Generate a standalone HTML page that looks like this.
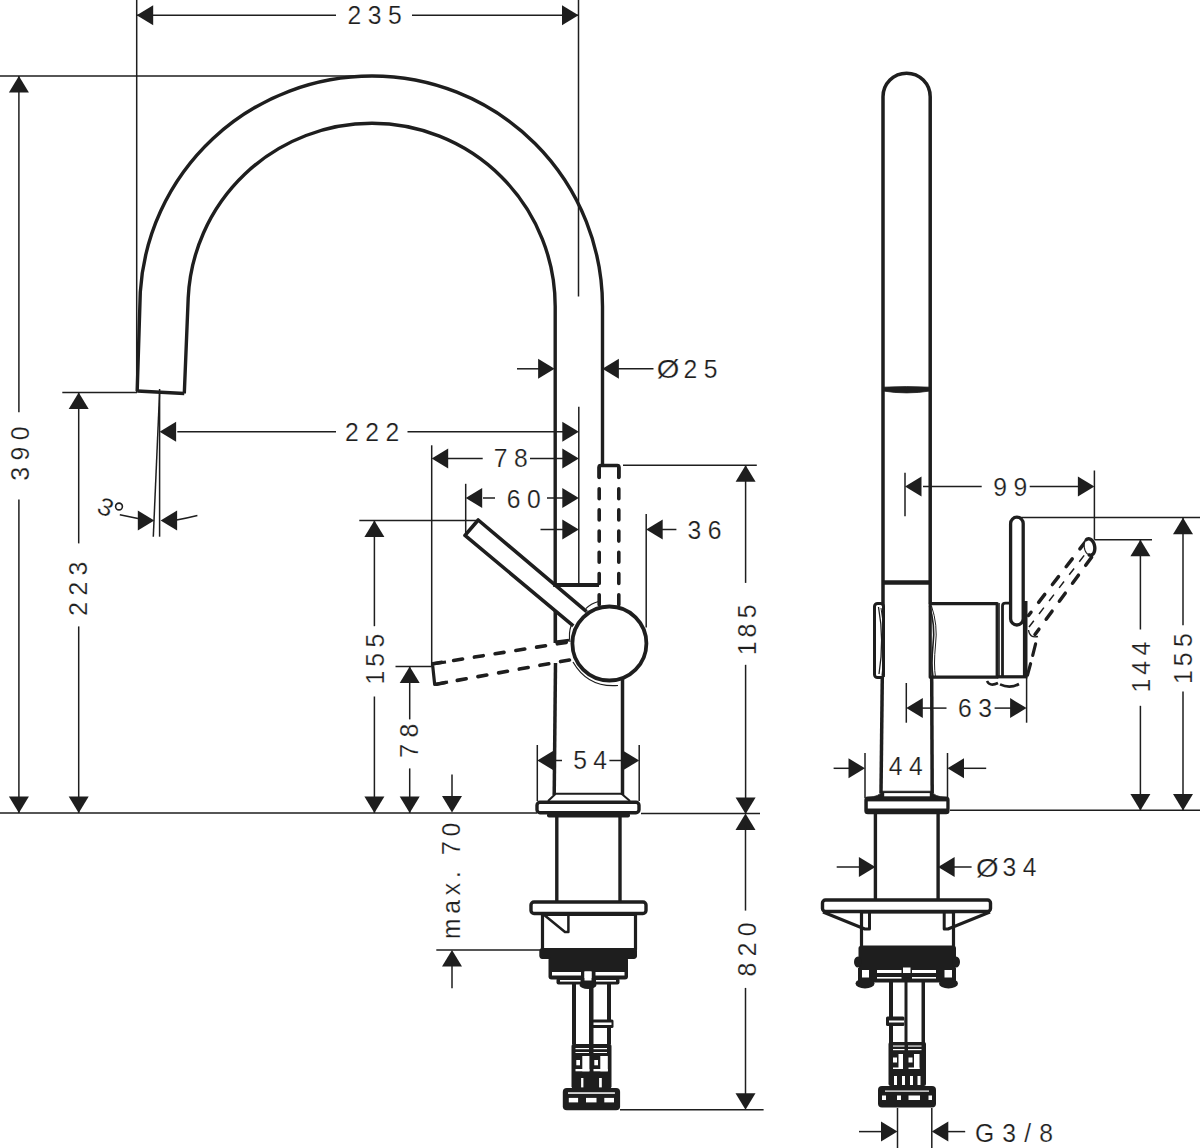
<!DOCTYPE html>
<html><head><meta charset="utf-8"><style>
html,body{margin:0;padding:0;background:#fff;width:1200px;height:1148px;overflow:hidden}
svg{display:block}
text{font-family:"Liberation Sans",sans-serif;fill:#1e1e1e;stroke:#fff;stroke-width:0.2px}
</style></head><body>
<svg width="1200" height="1148" viewBox="0 0 1200 1148" stroke="#1e1e1e" fill="none" stroke-linecap="butt" stroke-linejoin="round">
<line x1="136.7" y1="0" x2="136.7" y2="392" stroke-width="1.5"/>
<line x1="578.5" y1="0" x2="578.5" y2="296.4" stroke-width="1.5"/>
<line x1="136.7" y1="15.3" x2="336" y2="15.3" stroke-width="1.5"/>
<line x1="412" y1="15.3" x2="578.5" y2="15.3" stroke-width="1.5"/>
<path d="M136.7 15.3 L153.2 5.3 L153.2 25.3 Z" fill="#1e1e1e" stroke="none"/>
<path d="M578.5 15.3 L562 25.3 L562 5.3 Z" fill="#1e1e1e" stroke="none"/>
<text transform="translate(347.5 24.05) scale(0.95 1)" font-size="26" letter-spacing="6.8">235</text>
<line x1="0" y1="76" x2="372" y2="76" stroke-width="1.5"/>
<line x1="18.9" y1="76" x2="18.9" y2="412.2" stroke-width="1.5"/>
<line x1="18.9" y1="499.4" x2="18.9" y2="813" stroke-width="1.5"/>
<path d="M18.9 76 L28.9 92.5 L8.9 92.5 Z" fill="#1e1e1e" stroke="none"/>
<path d="M18.9 813 L8.9 796.5 L28.9 796.5 Z" fill="#1e1e1e" stroke="none"/>
<text transform="translate(28.75 480.75) rotate(-90) scale(0.95 1)" font-size="26" letter-spacing="6.8">390</text>
<line x1="62.3" y1="392.6" x2="137" y2="392.6" stroke-width="1.5"/>
<line x1="78.7" y1="392.6" x2="78.7" y2="543.4" stroke-width="1.5"/>
<line x1="78.7" y1="626.4" x2="78.7" y2="813" stroke-width="1.5"/>
<path d="M78.7 392.6 L88.7 409.1 L68.7 409.1 Z" fill="#1e1e1e" stroke="none"/>
<path d="M78.7 813 L68.7 796.5 L88.7 796.5 Z" fill="#1e1e1e" stroke="none"/>
<text transform="translate(87.3 615.8) rotate(-90) scale(0.95 1)" font-size="26" letter-spacing="6.8">223</text>
<line x1="0" y1="813" x2="537" y2="813" stroke-width="1.5"/>
<line x1="641" y1="813.6" x2="760" y2="813.6" stroke-width="1.5"/>
<path d="M137.2 391 L140.3 292 A232.2 230.5 0 0 1 372 76.0 A230.5 230.5 0 0 1 602.5 306.5 L602.5 465.5" stroke-width="3.4" fill="none" />
<path d="M184.3 393.5 L188.2 298 A184 183.2 0 0 1 372 123.30000000000001 A183.2 183.2 0 0 1 555.2 306.5 L555.2 585" stroke-width="3.4" fill="none" />
<line x1="137.2" y1="391" x2="184.3" y2="393.5" stroke-width="3.4"/>
<line x1="553.2" y1="585" x2="599" y2="585" stroke-width="4.2"/>
<line x1="578.8" y1="406.7" x2="578.8" y2="585" stroke-width="1.5"/>
<line x1="177.3" y1="431.7" x2="336" y2="431.7" stroke-width="1.5"/>
<line x1="407.5" y1="431.7" x2="563" y2="431.7" stroke-width="1.5"/>
<path d="M159.6 431.7 L176.1 421.7 L176.1 441.7 Z" fill="#1e1e1e" stroke="none"/>
<path d="M578.8 431.7 L562.3 441.7 L562.3 421.7 Z" fill="#1e1e1e" stroke="none"/>
<text transform="translate(345.1 441.22) scale(0.95 1)" font-size="26" letter-spacing="6.8">222</text>
<line x1="431.7" y1="445.3" x2="431.7" y2="666.5" stroke-width="1.5"/>
<line x1="448" y1="458.4" x2="482.7" y2="458.4" stroke-width="1.5"/>
<line x1="530" y1="458.4" x2="563" y2="458.4" stroke-width="1.5"/>
<path d="M431.7 458.4 L448.2 448.4 L448.2 468.4 Z" fill="#1e1e1e" stroke="none"/>
<path d="M578.8 458.4 L562.3 468.4 L562.3 448.4 Z" fill="#1e1e1e" stroke="none"/>
<text transform="translate(493.85 466.8) scale(0.95 1)" font-size="26" letter-spacing="6.8">78</text>
<line x1="465.7" y1="483.8" x2="465.7" y2="533.6" stroke-width="1.5"/>
<line x1="483" y1="498" x2="495" y2="498" stroke-width="1.5"/>
<line x1="547" y1="498" x2="563" y2="498" stroke-width="1.5"/>
<path d="M465.7 498 L482.2 488 L482.2 508 Z" fill="#1e1e1e" stroke="none"/>
<path d="M578.8 498 L562.3 508 L562.3 488 Z" fill="#1e1e1e" stroke="none"/>
<text transform="translate(506.75 507.75) scale(0.95 1)" font-size="26" letter-spacing="6.8">60</text>
<line x1="540.5" y1="529.5" x2="563" y2="529.5" stroke-width="1.5"/>
<path d="M578.8 529.5 L562.3 539.5 L562.3 519.5 Z" fill="#1e1e1e" stroke="none"/>
<line x1="646.2" y1="514" x2="646.2" y2="627.4" stroke-width="1.5"/>
<path d="M646.2 529.5 L662.7 519.5 L662.7 539.5 Z" fill="#1e1e1e" stroke="none"/>
<line x1="662" y1="529.5" x2="676.4" y2="529.5" stroke-width="1.5"/>
<text transform="translate(687.55 538.75) scale(0.95 1)" font-size="26" letter-spacing="6.8">36</text>
<line x1="517" y1="368.8" x2="539" y2="368.8" stroke-width="1.5"/>
<path d="M554.6 368.8 L538.1 378.8 L538.1 358.8 Z" fill="#1e1e1e" stroke="none"/>
<path d="M602.4 368.8 L618.9 358.8 L618.9 378.8 Z" fill="#1e1e1e" stroke="none"/>
<line x1="618" y1="368.8" x2="653.5" y2="368.8" stroke-width="1.5"/>
<text transform="translate(656.7 377.6) scale(1.12 1)" font-size="26" letter-spacing="6.8">Ø</text>
<text transform="translate(683.5 378.1) scale(0.95 1)" font-size="26" letter-spacing="6.8">25</text>
<line x1="159.6" y1="389" x2="159.6" y2="536.7" stroke-width="1.5"/>
<line x1="159.6" y1="392" x2="153.3" y2="536.7" stroke-width="1.5"/>
<path d="M154.3 520.4 L137.8 530.4 L137.8 510.4 Z" fill="#1e1e1e" stroke="none"/>
<path d="M138 518.5 L119.8 514.7" stroke-width="1.5" fill="none" />
<path d="M160.6 520.4 L177.1 510.4 L177.1 530.4 Z" fill="#1e1e1e" stroke="none"/>
<path d="M176.5 520 Q186 518.5 197.4 515.6" stroke-width="1.5" fill="none" />
<text transform="translate(106 507) rotate(24) scale(1.05 1)" x="-7.2" y="8.9" font-size="25">3</text>
<circle cx="119" cy="506.5" r="3.4" stroke-width="1.6" fill="none"/>
<line x1="359.3" y1="520.5" x2="476" y2="520.5" stroke-width="1.5"/>
<line x1="374.4" y1="520.5" x2="374.4" y2="626.2" stroke-width="1.5"/>
<line x1="374.4" y1="696.5" x2="374.4" y2="813" stroke-width="1.5"/>
<path d="M374.4 520.5 L384.4 537 L364.4 537 Z" fill="#1e1e1e" stroke="none"/>
<path d="M374.4 813 L364.4 796.5 L384.4 796.5 Z" fill="#1e1e1e" stroke="none"/>
<text transform="translate(384 684.4) rotate(-90) scale(0.95 1)" font-size="26" dx="0 4.2 5.8">155</text>
<line x1="395.5" y1="666.5" x2="431.5" y2="666.5" stroke-width="1.5"/>
<line x1="409.7" y1="666.5" x2="409.7" y2="719.4" stroke-width="1.5"/>
<line x1="409.7" y1="768.4" x2="409.7" y2="813" stroke-width="1.5"/>
<path d="M409.7 666.5 L419.7 683 L399.7 683 Z" fill="#1e1e1e" stroke="none"/>
<path d="M409.7 813 L399.7 796.5 L419.7 796.5 Z" fill="#1e1e1e" stroke="none"/>
<text transform="translate(418.25 757.7) rotate(-90) scale(0.95 1)" font-size="26" letter-spacing="6.8">78</text>
<line x1="452" y1="774.6" x2="452" y2="800" stroke-width="1.5"/>
<path d="M452 812.5 L442 796 L462 796 Z" fill="#1e1e1e" stroke="none"/>
<line x1="436.3" y1="950.1" x2="541" y2="950.1" stroke-width="1.5"/>
<path d="M452 950.1 L462 966.6 L442 966.6 Z" fill="#1e1e1e" stroke="none"/>
<line x1="452" y1="960" x2="452" y2="988.3" stroke-width="1.5"/>
<text transform="translate(460.1 939) rotate(-90) scale(0.95 1)" font-size="26" letter-spacing="5.0">max. 70</text>
<line x1="623" y1="465.3" x2="756.8" y2="465.3" stroke-width="1.5"/>
<line x1="745.6" y1="465.3" x2="745.6" y2="582.9" stroke-width="1.5"/>
<line x1="745.6" y1="664.8" x2="745.6" y2="814" stroke-width="1.5"/>
<path d="M745.6 465.3 L755.6 481.8 L735.6 481.8 Z" fill="#1e1e1e" stroke="none"/>
<path d="M745.6 814 L735.6 797.5 L755.6 797.5 Z" fill="#1e1e1e" stroke="none"/>
<text transform="translate(755.6 655.3) rotate(-90) scale(0.95 1)" font-size="26" dx="0 4.2 5.8">185</text>
<path d="M745.5 813.6 L755.5 830.1 L735.5 830.1 Z" fill="#1e1e1e" stroke="none"/>
<line x1="745.5" y1="825" x2="745.5" y2="910.6" stroke-width="1.5"/>
<line x1="745.5" y1="987.9" x2="745.5" y2="1100" stroke-width="1.5"/>
<path d="M745.5 1109.7 L735.5 1093.2 L755.5 1093.2 Z" fill="#1e1e1e" stroke="none"/>
<text transform="translate(755.6 976.55) rotate(-90) scale(0.95 1)" font-size="26" letter-spacing="6.8">820</text>
<line x1="620" y1="1109.7" x2="763.6" y2="1109.7" stroke-width="1.5"/>
<path d="M586.6 611.7 L478.2 520 L465 535.4 L573.3 625.9" stroke-width="3.6" fill="none" />
<circle cx="609.4" cy="643.5" r="37" stroke-width="3.8" fill="#fff"/>
<path d="M585.8 608.6 Q591 603.5 598.4 601.5" stroke-width="1.2" fill="none" />
<path d="M571 626 Q568.5 633 570 642" stroke-width="1.2" fill="none" />
<path d="M573 662 Q588 688 618 685.5" stroke-width="1.2" fill="none" />
<path d="M599.2 467.5 L599.2 606" stroke-width="3.6" fill="none" stroke-dasharray="10 11.2" stroke-dashoffset="0" stroke-linecap="round"/>
<path d="M618.8 467.5 L618.8 606" stroke-width="3.6" fill="none" stroke-dasharray="10 11.2" stroke-dashoffset="0" stroke-linecap="round"/>
<path d="M599.2 477 L599.2 467 Q599.2 465.5 600.7 465.5 L617.3 465.5 Q618.8 465.5 618.8 467 L618.8 477" stroke-width="3.6" fill="none" stroke-linecap="round"/>
<path d="M568.7 642 L432.5 663.8" stroke-width="3.6" fill="none" stroke-dasharray="9 12" stroke-dashoffset="-2.5" stroke-linecap="round"/>
<path d="M571.9 659.5 L434.7 684.5" stroke-width="3.6" fill="none" stroke-dasharray="9 12" stroke-dashoffset="-2.5" stroke-linecap="round"/>
<path d="M446 662 L432.5 663.8 L434.7 684.5 L448 682" stroke-width="3.2" fill="none" />
<line x1="555.3" y1="611" x2="555.3" y2="643" stroke-width="3.6"/>
<path d="M555.3 642 L569 640.2" stroke-width="2.8" fill="none" />
<line x1="555.5" y1="663" x2="554.2" y2="795" stroke-width="3.5"/>
<line x1="622.5" y1="678" x2="622.5" y2="795" stroke-width="3.5"/>
<path d="M548 801 L555.7 793.7 L621.5 793.7 L630 801" stroke-width="2" fill="none" />
<rect x="537" y="802.2" width="102" height="10.5" rx="3" stroke-width="3.4" fill="#fff"/>
<rect x="547" y="813" width="83" height="4.5" rx="2" fill="#1e1e1e" stroke="none"/>
<line x1="537.3" y1="745" x2="537.3" y2="801" stroke-width="1.5"/>
<line x1="639.2" y1="745" x2="639.2" y2="801" stroke-width="1.5"/>
<path d="M537.3 760.5 L553.8 750.5 L553.8 770.5 Z" fill="#1e1e1e" stroke="none"/>
<path d="M639.2 760.5 L622.7 770.5 L622.7 750.5 Z" fill="#1e1e1e" stroke="none"/>
<line x1="555" y1="760.5" x2="562" y2="760.5" stroke-width="1.5"/>
<line x1="609.4" y1="760.5" x2="622" y2="760.5" stroke-width="1.5"/>
<text transform="translate(573.15 769.35) scale(0.95 1)" font-size="26" letter-spacing="6.8">54</text>
<line x1="556.8" y1="816" x2="556.8" y2="902" stroke-width="3.4"/>
<line x1="620" y1="816" x2="620" y2="902" stroke-width="3.4"/>
<rect x="531" y="902" width="115" height="11.5" rx="3" stroke-width="3.4" fill="#fff"/>
<rect x="542.5" y="914.5" width="93" height="35" stroke-width="3.2" fill="#fff"/>
<path d="M543 914 L565 932 L568.4 932 L568.4 914 Z" stroke-width="2.5" fill="none" />
<rect x="539.6" y="948.5" width="97.4" height="10" rx="3" fill="#1e1e1e" stroke="none"/>
<path d="M883 677 L883 96.8 A23.6 23.6 0 0 1 930.2 96.8 L930.2 603.7" stroke-width="3.5" fill="none" />
<path d="M883 387.2 Q906.6 386 930.2 387.2 L930.2 391 Q906.6 394.8 883 391 Z" stroke-width="0.8" fill="#1e1e1e" />
<line x1="883" y1="582.5" x2="930.2" y2="582.5" stroke-width="4.5"/>
<rect x="930.2" y="603.7" width="67" height="73.5" stroke-width="3.2" fill="#fff"/>
<line x1="999.2" y1="603" x2="999.2" y2="677" stroke-width="1.2"/>
<path d="M1002.5 677 L1002.5 606 Q1002.5 603.2 1005.5 603.2 L1024 603.2" stroke-width="2.8" fill="none" />
<line x1="1025.2" y1="601" x2="1025.2" y2="677" stroke-width="4.6"/>
<line x1="997" y1="676.8" x2="1027.5" y2="676.8" stroke-width="3.2"/>
<rect x="874.5" y="603.5" width="9" height="74" rx="3" stroke-width="3" fill="#fff"/>
<path d="M878.5 607 Q884.5 640 879 674" stroke-width="1.3" fill="none" />
<path d="M881 608 Q887 640 882 675" stroke-width="1.0" fill="none" />
<path d="M929.5 606 Q935.5 625 933 645 Q931 665 933 677" stroke-width="1.6" fill="none" />
<path d="M931.5 606 Q938 625 935.5 645 Q933.5 665 935.5 677" stroke-width="1.0" fill="none" />
<rect x="1010.6" y="517.2" width="12.6" height="107.8" rx="6.3" stroke-width="3.3" fill="#fff"/>
<path d="M1086 541 L1028.5 615.5" stroke-width="3.5" fill="none" stroke-dasharray="10 12.5" stroke-linecap="round"/>
<path d="M1086 553 L1029 627" stroke-width="1.5" fill="none" stroke-dasharray="8 8.5" stroke-dashoffset="-3"/>
<path d="M1092.5 556 L1035 634.5" stroke-width="3.5" fill="none" stroke-dasharray="10 12.3" stroke-dashoffset="-1.5" stroke-linecap="round"/>
<path d="M1090.99 555.17 L1091.64 554.98 L1092.26 554.65 L1092.83 554.19 L1093.35 553.61 L1093.79 552.91 L1094.17 552.12 L1094.46 551.23 L1094.67 550.28 L1094.8 549.27 L1094.83 548.21 L1094.77 547.14 L1094.62 546.07 L1094.38 545.01 L1094.06 543.99 L1093.66 543.01 L1093.19 542.11 L1092.65 541.29 L1092.07 540.57 L1091.44 539.95 L1090.77 539.46 L1090.09 539.1 L1089.39 538.87 L1088.69 538.78 L1088.01 538.83 L1087.36 539.02 L1086.74 539.35 L1086.17 539.81 L1085.65 540.39 L1085.21 541.09 L1084.83 541.88 L1084.54 542.77 L1084.33 543.72 L1084.2 544.73 L1084.17 545.79 L1084.23 546.86 L1084.38 547.93 L1084.62 548.99 L1084.94 550.01 L1085.34 550.99 L1085.81 551.89 L1086.35 552.71 L1086.93 553.43 L1087.56 554.05 L1088.23 554.54 L1088.91 554.9 L1089.61 555.13 L1090.31 555.22 L1090.99 555.17 Z" fill="#fff" stroke="none"/>
<path d="M1089.14 554.99 L1089.99 555.2 L1090.83 555.19 L1091.64 554.98 L1092.39 554.56 L1093.06 553.95 L1093.65 553.16 L1094.13 552.21 L1094.49 551.13 L1094.72 549.95 L1094.82 548.69 L1094.79 547.38 L1094.62 546.07 L1094.31 544.78 L1093.89 543.55 L1093.35 542.4 L1092.72 541.37 L1092 540.49 L1091.22 539.77 L1090.39 539.24 L1089.54 538.91 L1088.69 538.78 L1087.86 538.86 L1087.07 539.16 L1086.35 539.65" stroke-width="3.4" fill="none" stroke-linecap="round"/>
<path d="M1085.38 540.78 L1084.81 541.94 L1084.41 543.28 L1084.2 544.77 L1084.19 546.34 L1084.38 547.93 L1084.77 549.49 L1085.33 550.95 L1086.04 552.27 L1086.89 553.39 L1087.84 554.27" stroke-width="1.2" fill="none" />
<path d="M1028.5 630 Q1029.5 638.5 1038 636.5" stroke-width="1.3" fill="none" />
<path d="M1035.6 643.8 L1032.7 655.4" stroke-width="3.2" fill="none" stroke-linecap="round"/>
<path d="M1030.6 663.7 L1027.5 675" stroke-width="3.2" fill="none" stroke-linecap="round"/>
<path d="M987 681 Q990 687 998 683" stroke-width="2.6" fill="none" />
<path d="M1000 684.4 Q1010 689 1019 684" stroke-width="2.6" fill="none" />
<line x1="1017" y1="517.4" x2="1200" y2="517.4" stroke-width="1.5"/>
<line x1="1094.4" y1="470.5" x2="1094.4" y2="539.7" stroke-width="1.5"/>
<line x1="1094.4" y1="539.7" x2="1152" y2="539.7" stroke-width="1.5"/>
<line x1="905" y1="472.7" x2="905" y2="516.2" stroke-width="1.5"/>
<line x1="923" y1="486.4" x2="981.7" y2="486.4" stroke-width="1.5"/>
<line x1="1029.7" y1="486.4" x2="1079" y2="486.4" stroke-width="1.5"/>
<path d="M905 486.4 L921.5 476.4 L921.5 496.4 Z" fill="#1e1e1e" stroke="none"/>
<path d="M1094.4 486.4 L1077.9 496.4 L1077.9 476.4 Z" fill="#1e1e1e" stroke="none"/>
<text transform="translate(993.35 496.15) scale(0.95 1)" font-size="26" letter-spacing="6.8">99</text>
<line x1="1183" y1="517.8" x2="1183" y2="625.2" stroke-width="1.5"/>
<line x1="1183" y1="691.4" x2="1183" y2="810.5" stroke-width="1.5"/>
<path d="M1183 517.8 L1193 534.3 L1173 534.3 Z" fill="#1e1e1e" stroke="none"/>
<path d="M1183 810.5 L1173 794 L1193 794 Z" fill="#1e1e1e" stroke="none"/>
<text transform="translate(1192.25 684) rotate(-90) scale(0.95 1)" font-size="26" dx="0 4.2 5.8">155</text>
<line x1="1140.4" y1="539.7" x2="1140.4" y2="629.5" stroke-width="1.5"/>
<line x1="1140.4" y1="705.8" x2="1140.4" y2="810.5" stroke-width="1.5"/>
<path d="M1140.4 539.7 L1150.4 556.2 L1130.4 556.2 Z" fill="#1e1e1e" stroke="none"/>
<path d="M1140.4 810.5 L1130.4 794 L1150.4 794 Z" fill="#1e1e1e" stroke="none"/>
<text transform="translate(1150.45 692.5) rotate(-90) scale(0.95 1)" font-size="26" dx="0 4.2 5.8">144</text>
<line x1="882.3" y1="677" x2="881" y2="793" stroke-width="3.5"/>
<line x1="931.7" y1="677" x2="932.2" y2="793" stroke-width="3.5"/>
<path d="M868 797.5 Q880 796.5 881.5 791.2 L932 791.2 Q933.5 796.5 946 797.5 Z" stroke-width="0.8" fill="#1e1e1e" />
<rect x="884.2" y="793.1" width="45.6" height="3.5" rx="0" fill="#fff" stroke="none"/>
<rect x="864.3" y="796.5" width="85.3" height="17.7" rx="3.5" fill="#1e1e1e" stroke="none"/>
<rect x="867.8" y="801.4" width="78.5" height="7.1" rx="0" fill="#fff" stroke="none"/>
<line x1="950" y1="810.3" x2="1200" y2="810.3" stroke-width="1.5"/>
<line x1="906.3" y1="683" x2="906.3" y2="722.7" stroke-width="1.5"/>
<line x1="1026.6" y1="677" x2="1026.6" y2="722.7" stroke-width="1.5"/>
<path d="M906.3 708.1 L922.8 698.1 L922.8 718.1 Z" fill="#1e1e1e" stroke="none"/>
<line x1="922" y1="708.1" x2="946.5" y2="708.1" stroke-width="1.5"/>
<text transform="translate(958.1 716.8) scale(0.95 1)" font-size="26" letter-spacing="6.8">63</text>
<line x1="994.6" y1="708.1" x2="1011" y2="708.1" stroke-width="1.5"/>
<path d="M1026.6 708.1 L1010.1 718.1 L1010.1 698.1 Z" fill="#1e1e1e" stroke="none"/>
<line x1="833.6" y1="768.3" x2="850" y2="768.3" stroke-width="1.5"/>
<path d="M865 768.3 L848.5 778.3 L848.5 758.3 Z" fill="#1e1e1e" stroke="none"/>
<line x1="865" y1="753" x2="865" y2="798" stroke-width="1.5"/>
<line x1="947.5" y1="753" x2="947.5" y2="798" stroke-width="1.5"/>
<path d="M947.5 768.3 L964 758.3 L964 778.3 Z" fill="#1e1e1e" stroke="none"/>
<line x1="963" y1="768.3" x2="986.2" y2="768.3" stroke-width="1.5"/>
<text transform="translate(888.85 775.4) scale(0.95 1)" font-size="26" letter-spacing="6.8">44</text>
<line x1="875.4" y1="814" x2="875.4" y2="900" stroke-width="3.4"/>
<line x1="938.1" y1="814" x2="938.1" y2="900" stroke-width="3.4"/>
<line x1="836.7" y1="867" x2="860" y2="867" stroke-width="1.5"/>
<path d="M875.4 867 L858.9 877 L858.9 857 Z" fill="#1e1e1e" stroke="none"/>
<path d="M938.1 867 L954.6 857 L954.6 877 Z" fill="#1e1e1e" stroke="none"/>
<line x1="954" y1="867" x2="971.6" y2="867" stroke-width="1.5"/>
<text transform="translate(976 876.7) scale(1.12 1)" font-size="26" letter-spacing="6.8">Ø</text>
<text transform="translate(1002.55 876.2) scale(0.95 1)" font-size="26" letter-spacing="6.8">34</text>
<rect x="822.5" y="900" width="168" height="11.5" rx="3" stroke-width="3.4" fill="#fff"/>
<path d="M823 912 L864.8 929 L869.5 929 L869.5 912" stroke-width="3" fill="none" />
<path d="M990 912 L948 929 L944.2 929 L944.2 912" stroke-width="3" fill="none" />
<rect x="861.5" y="912" width="92" height="35" stroke-width="3.2" fill="none"/>
<rect x="858.5" y="946" width="97.5" height="22.5" rx="2" fill="#1e1e1e" stroke="none"/>
<ellipse cx="858" cy="962" rx="4" ry="5.5" fill="#1e1e1e" stroke="none"/>
<ellipse cx="956" cy="962" rx="4" ry="5.5" fill="#1e1e1e" stroke="none"/>
<rect x="858" y="968" width="98" height="14.5" rx="0" fill="#1e1e1e" stroke="none"/>
<rect x="862" y="970" width="7" height="7.5" rx="0" fill="#fff" stroke="none"/>
<rect x="944.5" y="970" width="7.5" height="7.5" rx="0" fill="#fff" stroke="none"/>
<rect x="877" y="970" width="24.5" height="3" rx="0" fill="#fff" stroke="none"/>
<rect x="912" y="970" width="24" height="3" rx="0" fill="#fff" stroke="none"/>
<rect x="877" y="977" width="24.5" height="1.6" rx="0" fill="#fff" stroke="none"/>
<rect x="912" y="977" width="24" height="1.6" rx="0" fill="#fff" stroke="none"/>
<rect x="903" y="967.5" width="7.5" height="5.5" rx="0" fill="#fff" stroke="none"/>
<ellipse cx="865" cy="983.5" rx="9.5" ry="5" fill="#1e1e1e" stroke="none"/>
<ellipse cx="948.5" cy="983.5" rx="9.5" ry="5" fill="#1e1e1e" stroke="none"/>
<rect x="889" y="982" width="4" height="61" rx="0" fill="#1e1e1e" stroke="none"/>
<rect x="904.5" y="982" width="3" height="61" rx="0" fill="#1e1e1e" stroke="none"/>
<rect x="921.5" y="982" width="3.5" height="61" rx="0" fill="#1e1e1e" stroke="none"/>
<rect x="886" y="1016.5" width="18.5" height="9.5" rx="1.5" fill="#1e1e1e" stroke="none"/>
<rect x="889" y="1020.5" width="15" height="2" rx="0" fill="#fff" stroke="none"/>
<rect x="888.5" y="1042" width="37.5" height="44" rx="2" fill="#1e1e1e" stroke="none"/>
<rect x="893" y="1045.5" width="11.5" height="1.1" rx="0" fill="#fff" stroke="none"/>
<rect x="908" y="1045.5" width="13.5" height="1.1" rx="0" fill="#fff" stroke="none"/>
<rect x="893" y="1049" width="11.5" height="1.2" rx="0" fill="#fff" stroke="none"/>
<rect x="908" y="1049" width="13.5" height="1.2" rx="0" fill="#fff" stroke="none"/>
<rect x="893" y="1057.5" width="4" height="5" rx="0" fill="#fff" stroke="none"/>
<rect x="898.5" y="1054" width="4.5" height="15" rx="0" fill="#fff" stroke="none"/>
<rect x="908.5" y="1057.5" width="4" height="5" rx="0" fill="#fff" stroke="none"/>
<rect x="914" y="1054" width="5.5" height="15" rx="0" fill="#fff" stroke="none"/>
<rect x="893" y="1067.5" width="10" height="1.5" rx="0" fill="#fff" stroke="none"/>
<rect x="908.5" y="1067.5" width="11" height="1.5" rx="0" fill="#fff" stroke="none"/>
<rect x="894" y="1076" width="3" height="9" rx="0" fill="#fff" stroke="none"/>
<rect x="902" y="1076" width="3" height="9" rx="0" fill="#fff" stroke="none"/>
<rect x="910" y="1076" width="3" height="9" rx="0" fill="#fff" stroke="none"/>
<rect x="917.5" y="1076" width="3" height="9" rx="0" fill="#fff" stroke="none"/>
<rect x="878" y="1086" width="58" height="21.5" rx="4" fill="#1e1e1e" stroke="none"/>
<rect x="885" y="1090.5" width="44" height="1.2" rx="0" fill="#fff" stroke="none"/>
<rect x="882" y="1095.5" width="4" height="4.5" rx="0" fill="#fff" stroke="none"/>
<rect x="897" y="1095.5" width="4" height="4.5" rx="0" fill="#fff" stroke="none"/>
<rect x="908.5" y="1095.5" width="11.5" height="4.5" rx="0" fill="#fff" stroke="none"/>
<rect x="928.5" y="1095.5" width="3.5" height="4.5" rx="0" fill="#fff" stroke="none"/>
<line x1="897.5" y1="1108" x2="897.5" y2="1148" stroke-width="1.5"/>
<line x1="931.8" y1="1108" x2="931.8" y2="1148" stroke-width="1.5"/>
<line x1="859" y1="1131.6" x2="882" y2="1131.6" stroke-width="1.5"/>
<path d="M897.5 1131.6 L881 1141.6 L881 1121.6 Z" fill="#1e1e1e" stroke="none"/>
<path d="M931.8 1131.6 L948.3 1121.6 L948.3 1141.6 Z" fill="#1e1e1e" stroke="none"/>
<line x1="947" y1="1131.6" x2="965.2" y2="1131.6" stroke-width="1.5"/>
<text transform="translate(975 1141.55) scale(0.95 1)" font-size="26" letter-spacing="8.6">G3/8</text>
<rect x="539.5" y="948" width="97" height="11" rx="3" fill="#1e1e1e" stroke="none"/>
<rect x="548.5" y="957" width="79.5" height="22.5" rx="3" fill="#1e1e1e" stroke="none"/>
<rect x="552" y="972" width="29" height="3.5" rx="0" fill="#fff" stroke="none"/>
<rect x="595.5" y="972" width="29" height="3.5" rx="0" fill="#fff" stroke="none"/>
<rect x="584.5" y="971.5" width="7" height="9" rx="0" fill="#fff" stroke="none"/>
<rect x="556.5" y="978" width="63" height="6.5" rx="2" fill="#1e1e1e" stroke="none"/>
<rect x="560" y="980" width="20.5" height="1.6" rx="0" fill="#fff" stroke="none"/>
<rect x="596" y="980" width="20" height="1.6" rx="0" fill="#fff" stroke="none"/>
<ellipse cx="588" cy="985" rx="8.5" ry="4" fill="#1e1e1e" stroke="none"/>
<rect x="584.5" y="971.5" width="7" height="9" rx="0" fill="#fff" stroke="none"/>
<rect x="572" y="984" width="4" height="60.5" rx="0" fill="#1e1e1e" stroke="none"/>
<rect x="589" y="984" width="4.5" height="60.5" rx="0" fill="#1e1e1e" stroke="none"/>
<rect x="607" y="984" width="4" height="60.5" rx="0" fill="#1e1e1e" stroke="none"/>
<rect x="592" y="1019.5" width="21.5" height="8.5" rx="1.5" fill="#1e1e1e" stroke="none"/>
<rect x="593.5" y="1022.5" width="18" height="2.5" rx="0" fill="#fff" stroke="none"/>
<rect x="571.5" y="1044" width="40" height="44.5" rx="2" fill="#1e1e1e" stroke="none"/>
<rect x="575.5" y="1048" width="13.5" height="1.2" rx="0" fill="#fff" stroke="none"/>
<rect x="593.5" y="1048" width="13.5" height="1.2" rx="0" fill="#fff" stroke="none"/>
<rect x="575.5" y="1052" width="13.5" height="1" rx="0" fill="#fff" stroke="none"/>
<rect x="593.5" y="1052" width="13.5" height="1" rx="0" fill="#fff" stroke="none"/>
<rect x="576.3" y="1060" width="3.7" height="5.3" rx="0" fill="#fff" stroke="none"/>
<rect x="582.3" y="1056" width="7.1" height="15.3" rx="0" fill="#fff" stroke="none"/>
<rect x="594.3" y="1060" width="3.7" height="5.3" rx="0" fill="#fff" stroke="none"/>
<rect x="600.3" y="1056" width="7.5" height="15.3" rx="0" fill="#fff" stroke="none"/>
<rect x="575.5" y="1069" width="13.9" height="2.3" rx="0" fill="#fff" stroke="none"/>
<rect x="593.5" y="1069" width="14.3" height="2.3" rx="0" fill="#fff" stroke="none"/>
<rect x="581.1" y="1078" width="2.3" height="9.4" rx="0" fill="#fff" stroke="none"/>
<rect x="599.1" y="1078" width="2.7" height="9.4" rx="0" fill="#fff" stroke="none"/>
<rect x="562.8" y="1088" width="57.3" height="22.3" rx="4" fill="#1e1e1e" stroke="none"/>
<rect x="568" y="1092.3" width="46.9" height="1.5" rx="0" fill="#fff" stroke="none"/>
<rect x="568.8" y="1097.9" width="9.3" height="4.5" rx="0" fill="#fff" stroke="none"/>
<rect x="586" y="1097.9" width="10.5" height="4.5" rx="0" fill="#fff" stroke="none"/>
<rect x="604.3" y="1097.9" width="9.7" height="4.5" rx="0" fill="#fff" stroke="none"/>
</svg></body></html>
